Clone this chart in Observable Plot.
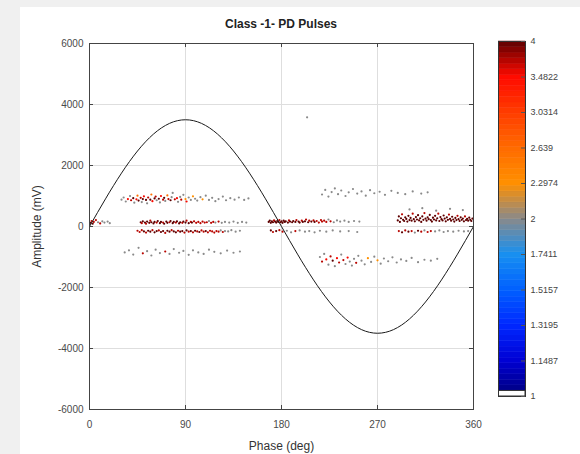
<!DOCTYPE html>
<html>
<head>
<meta charset="utf-8">
<script src="https://cdn.jsdelivr.net/npm/d3@7"></script>
<script src="https://cdn.jsdelivr.net/npm/@observablehq/plot@0.6"></script>
<style>
  html, body { margin: 0; padding: 0; background: #f0f0f0; }
  #fig { position: absolute; left: 20px; top: 7px; width: 560px; height: 447px; background: #fff;
         font-family: "Liberation Sans", Arial, Helvetica, sans-serif; }
  #title { position: absolute; left: 69px; width: 384px; top: 10px; text-align: center;
           font-weight: bold; font-size: 12px; color: #222; }
  #main { position: absolute; left: 0; top: 0; }
  #cbar { position: absolute; left: 478px; top: 0; }
</style>
</head>
<body>
<div id="fig">
  <div id="main"></div>
  <div id="cbar"></div>
  <div id="title">Class -1- PD Pulses</div>
</div>
<script>
const FONT = '"Liberation Sans", Arial, Helvetica, sans-serif';

// Axis ticks and titles
const xTicks = [0, 90, 180, 270, 360];
const yTicks = [-6000, -4000, -2000, 0, 2000, 4000, 6000];
const xTitle = "Phase (deg)";
const yTitle = "Amplitude (mV)";

// Colour bar ticks (pulse count level) and their printed labels
const cbTicks = [1, 1.1487, 1.3195, 1.5157, 1.7411, 2, 2.2974, 2.639, 3.0314, 3.4822, 4];
const cbLabels = ["1", "1.1487", "1.3195", "1.5157", "1.7411", "2", "2.2974", "2.639", "3.0314", "3.4822", "4"];

// Colour map stops
const cStops  = [1, 1.1487, 1.3195, 1.5157, 1.7411, 2, 2.2974, 2.639, 3.0314, 3.4822, 4];
const cColors = ["#00007a", "#0000d4", "#0028ff", "#0060ff", "#1890f0", "#8a8a8a",
                 "#ff9000", "#ff6a00", "#ff3c00", "#ff0a00", "#5e0000"];

// Supply voltage reference (mV) every 15 degrees
const sinePhase = [0, 15, 30, 45, 60, 75, 90, 105, 120, 135, 150, 165, 180,
                   195, 210, 225, 240, 255, 270, 285, 300, 315, 330, 345, 360];
const sineAmp = [0, 906, 1750, 2475, 3031, 3381, 3500, 3381, 3031, 2475, 1750, 906, 0,
                 -906, -1750, -2475, -3031, -3381, -3500, -3381, -3031, -2475, -1750, -906, 0];

// PD pulses: [phase (deg), amplitude (mV), level]
const startCluster = [[1,120,4],[2,180,3.7],[3,90,4],[4,150,3.7],[6,210,3.7],[8,140,2],[10,100,3.7],
  [12,170,2],[14,130,2],[17,160,2],[19,110,2]];

const posHighA = [[30,880,2],[32,950,2],[34,820,2],[36,900,3.5],[38,1000,2],[39,860,3.7],[41,930,4],
  [42,780,2],[44,890,3.5],[45,1010,2.6],[46,850,4],[48,940,3.7],[49,800,2],[50,900,4],[51,990,3.5],
  [53,870,4],[54,760,2],[55,950,3.7],[57,880,4],[58,1050,2.6],[59,830,3.5],[61,920,4],[62,980,3.7],
  [63,860,2],[65,910,4],[66,790,2],[67,1000,3.5],[69,880,3.7],[70,940,4],[71,840,2],[73,1020,2.6],
  [74,900,3.7],[76,860,4],[77,960,2],[78,1100,2],[80,890,3.7],[82,930,3.5],[83,810,2],[85,970,2],
  [86,880,3.7],[88,1040,2],[90,900,2.3],[91,820,3.5],[93,950,2],[95,870,2],[97,990,2.3],[99,910,2],
  [101,850,2],[104,960,2],[106,890,2.3],[109,1010,2],[112,870,2],[115,940,2],[118,830,2],[121,900,2],
  [125,980,2],[128,860,2],[132,930,2],[136,880,2],[140,950,2],[145,870,2],[149,920,2]];

const posLowA = [[48,140,4],[49,110,3.7],[50,170,4],[52,130,4],[53,90,3.7],[54,160,4],[56,120,4],
  [57,190,3.7],[58,140,4],[60,100,4],[61,150,4],[63,130,3.7],[64,180,4],[66,110,4],[67,150,4],[69,130,3.7],
  [70,90,4],[72,160,4],[73,120,4],[75,140,3.7],[76,180,4],[78,110,4],[79,150,4],[81,130,3.7],[82,170,4],
  [84,100,4],[85,140,4],[87,120,3.7],[88,160,4],[90,130,4],[91,190,3.7],[93,110,4],[95,150,3.7],[96,130,4],
  [98,170,3.7],[100,120,3.7],[102,150,3.7],[104,110,3.7],[106,160,3.7],[108,130,3.7],[110,140,3.7],
  [112,180,2],[114,120,3.7],[116,150,3.7],[118,130,2],[121,160,3.7],[124,120,2],[127,150,2],[131,130,2],
  [135,160,2],[139,120,2],[143,150,2],[147,130,2]];

const negLowA = [[45,-140,3.7],[47,-180,3.7],[49,-120,3.7],[51,-160,4],[53,-200,3.7],[55,-140,4],[57,-170,4],
  [59,-120,3.7],[61,-190,4],[63,-150,4],[65,-130,3.7],[67,-180,4],[69,-150,4],[71,-210,3.7],[73,-140,4],
  [75,-170,4],[77,-120,3.7],[79,-160,4],[81,-190,4],[83,-140,3.7],[85,-170,4],[87,-150,4],[89,-200,3.7],
  [91,-130,4],[93,-170,3.7],[95,-150,4],[97,-190,3.7],[99,-140,4],[101,-160,3.7],[103,-180,4],[105,-130,3.7],
  [107,-170,3.7],[109,-150,4],[111,-190,3.7],[113,-140,3.7],[115,-160,3.7],[117,-200,3.7],[119,-150,3.7],
  [121,-170,3.7],[123,-130,2],[125,-180,3.7],[127,-150,2],[130,-160,2],[133,-120,2],[137,-170,2],
  [141,-140,2]];

const negHighA = [[33,-850,2],[37,-780,2],[41,-920,2],[46,-700,2],[50,-880,3.7],[54,-810,2],[58,-950,2],
  [62,-760,2],[66,-870,2],[71,-820,3.7],[75,-900,2],[79,-740,2],[84,-860,2],[88,-800,2],[93,-930,2],
  [97,-780,2],[102,-850,2],[107,-900,2],[112,-760,2],[117,-830,2],[123,-880,2],[129,-790,2],
  [135,-860,2],[141,-820,2]];

const posLowB = [[168,150,4],[169,190,4],[170,120,4],[171,170,4],[172,140,4],[173,200,3.7],[174,160,4],
  [175,130,4],[176,180,4],[177,150,4],[178,210,3.7],[179,140,4],[180,170,4],[181,120,4],[182,190,4],
  [183,150,4],[184,170,4],[186,130,4],[187,200,3.7],[188,160,4],[190,140,4],[191,180,4],[193,150,4],
  [194,210,3.7],[196,160,4],[197,130,4],[199,190,3.7],[200,150,4],[202,170,4],[203,230,3.7],[205,140,4],
  [206,190,3.7],[208,160,4],[210,200,3.7],[211,150,4],[213,180,3.7],[215,130,3.7],[217,210,3.7],[218,160,3.7],
  [220,190,3.7],[222,150,3.7],[224,230,2],[226,170,3.7],[229,140,2],[232,200,2],[235,160,2],[239,190,2],
  [243,150,2],[248,180,2],[253,160,2]];

const negLowB = [[170,-130,4],[172,-180,3.7],[175,-150,4],[178,-120,3.7],[181,-170,3.7],[185,-140,2],
  [189,-190,2],[193,-150,3.7],[197,-130,2],[202,-170,2],[206,-150,2],[211,-190,2],[216,-140,2],
  [222,-170,2],[228,-130,2],[235,-160,2],[243,-150,2],[251,-180,2]];

const posHighB = [[218,1050,2],[221,1200,2],[224,980,2],[227,1130,2],[230,1250,2],[233,1060,2],
  [236,1180,2],[240,1000,2],[243,1120,2],[247,1230,2],[251,1080,2],[255,1150,2],[259,1010,2],
  [263,1190,2],[267,1090,2],[272,1140,2],[277,1040,2],[283,1170,2],[289,1100,2],[296,1060,2],
  [303,1150,2],[311,1080,2],[317,1120,2],[204,3580,2]];

const negHighB = [[216,-1000,2],[218,-1150,3.7],[220,-900,2],[222,-1080,3.5],[224,-1250,2],[226,-980,3.7],
  [228,-1120,4],[230,-1300,2],[232,-1040,3.5],[234,-1180,3.7],[236,-920,2],[238,-1100,3.7],[240,-1230,2],
  [242,-1020,3.5],[244,-1150,2],[246,-1280,2],[248,-1060,2],[250,-1190,3.7],[252,-960,2],[255,-1120,2],
  [258,-1240,2],[261,-1040,2.3],[264,-1160,2],[267,-990,2],[270,-1110,2.3],[273,-1220,2],
  [276,-1050,2],[280,-1140,2],[284,-1010,2],[288,-1180,2],[292,-1080,2],[297,-1130,2],[302,-1030,2],
  [308,-1170,2],[314,-1090,2],[320,-1120,2],[326,-1060,2]];

const posLowC = [[289,200,4],[290,330,4],[291,150,4],[292,270,4],[293,400,3.7],[294,220,4],[295,180,4],
  [296,300,4],[297,250,4],[298,160,4],[299,350,4],[300,210,4],[301,280,4],[302,190,4],[303,420,3.7],
  [304,240,4],[305,170,4],[306,310,4],[307,230,4],[308,370,4],[309,200,4],[310,270,4],[311,150,4],
  [312,330,4],[313,220,4],[314,440,3.7],[315,260,4],[316,190,4],[317,300,4],[318,240,4],[319,380,4],
  [320,210,4],[321,160,4],[322,290,4],[323,230,4],[324,350,4],[325,200,4],[326,270,4],[327,420,3.7],
  [328,180,4],[329,310,4],[330,240,4],[331,200,4],[332,360,4],[333,260,4],[334,170,4],[335,300,4],
  [336,220,4],[337,390,3.7],[338,250,4],[339,190,4],[340,320,4],[341,230,4],[342,160,4],[343,280,4],
  [344,210,4],[345,350,3.7],[346,240,4],[347,180,4],[348,300,4],[349,220,4],[350,260,4],[351,170,4],
  [352,330,3.7],[353,210,4],[354,250,4],[355,190,4],[356,290,4],[357,220,4],[358,180,4],[359,260,4],
  [300,560,2],[312,600,2],[325,520,2],[338,580,2],[350,540,2]];

const negLowC = [[290,-150,3.7],[293,-190,4],[296,-130,3.7],[299,-170,4],[302,-150,3.7],[305,-200,2],
  [308,-140,4],[311,-170,3.7],[314,-130,2],[317,-180,3.7],[320,-150,3.7],[324,-160,2],[328,-130,2],
  [332,-180,2],[336,-150,2],[341,-170,2],[346,-140,2],[351,-160,2],[355,-150,2]];

const pulses = [startCluster, posHighA, posLowA, negLowA, negHighA, posLowB, negLowB,
                posHighB, negHighB, posLowC, negLowC]
  .flat()
  .map(([phase, amp, level]) => ({phase, amp, level}));

const sineWave = sinePhase.map((phase, i) => ({phase, amp: sineAmp[i]}));

const colorOpts = {type: "log", base: 2, domain: cStops, range: cColors};

const main = Plot.plot({
  width: 560, height: 447,
  marginLeft: 69, marginRight: 107, marginTop: 36, marginBottom: 45,
  style: {fontFamily: FONT, fontSize: "10px", color: "#4a4a4a", background: "#fff"},
  x: {domain: [0, 360], label: null},
  y: {domain: [-6000, 6000], label: null},
  color: colorOpts,
  marks: [
    Plot.gridX(xTicks, {stroke: "#dedede", strokeOpacity: 1}),
    Plot.gridY(yTicks, {stroke: "#dedede", strokeOpacity: 1}),
    Plot.dot(pulses, {x: "phase", y: "amp", fill: "level", r: 1.1}),
    Plot.line(sineWave, {x: "phase", y: "amp", curve: "natural", stroke: "#1a1a1a", strokeWidth: 1}),
    Plot.frame({stroke: "#444"}),
    Plot.tickY(yTicks, {insetRight: 380, stroke: "#444"}),
    Plot.tickY(yTicks, {insetLeft: 380, stroke: "#444"}),
    Plot.tickX(xTicks, {insetTop: 362, stroke: "#444"}),
    Plot.tickX(xTicks, {insetBottom: 362, stroke: "#444"}),
    Plot.axisX(xTicks, {tickSize: 0, tickPadding: 11, tickFormat: d => String(d), label: null}),
    Plot.axisY(yTicks, {tickSize: 0, tickPadding: 6, tickFormat: d => String(d), label: null}),
    Plot.text([xTitle], {text: d => d, frameAnchor: "bottom", lineAnchor: "middle", textAnchor: "middle",
                         dy: 37, fontSize: 12, fill: "#333"}),
    Plot.text([yTitle], {text: d => d, frameAnchor: "left", lineAnchor: "middle", textAnchor: "middle",
                         dx: -52, rotate: -90, fontSize: 12, fill: "#333"})
  ]
});
document.getElementById("main").appendChild(main);

// Colour bar: 64 discrete steps on the log2 level scale, lowest step is blank
const steps = 64;
const slices = d3.range(1, steps).map(i => ({
  lo: Math.pow(2, 2 * i / steps),
  hi: Math.pow(2, 2 * (i + 1) / steps),
  mid: Math.pow(2, 2 * (i + 0.5) / steps)
}));
const blank = [{lo: 1, hi: Math.pow(2, 2 / steps)}];

const cbar = Plot.plot({
  width: 82, height: 447,
  marginLeft: 0, marginRight: 55, marginTop: 34, marginBottom: 58,
  style: {fontFamily: FONT, fontSize: "9px", color: "#444", background: "#fff"},
  y: {type: "log", base: 2, domain: [1, 4], axis: null},
  color: colorOpts,
  marks: [
    Plot.rect(slices, {y1: "lo", y2: "hi", fill: "mid", stroke: "mid", strokeWidth: 0.5}),
    Plot.rect(blank, {y1: "lo", y2: "hi", fill: "#fff", stroke: "#333", strokeWidth: 1}),
    Plot.frame({stroke: "#333"}),
    Plot.tickY(cbTicks, {insetLeft: 23, stroke: "#555"}),
    Plot.text(cbTicks, {y: d => d, text: (d, i) => cbLabels[i], frameAnchor: "right",
                        textAnchor: "start", dx: 5, fill: "#444", fontSize: 9})
  ]
});
document.getElementById("cbar").appendChild(cbar);
</script>
</body>
</html>
